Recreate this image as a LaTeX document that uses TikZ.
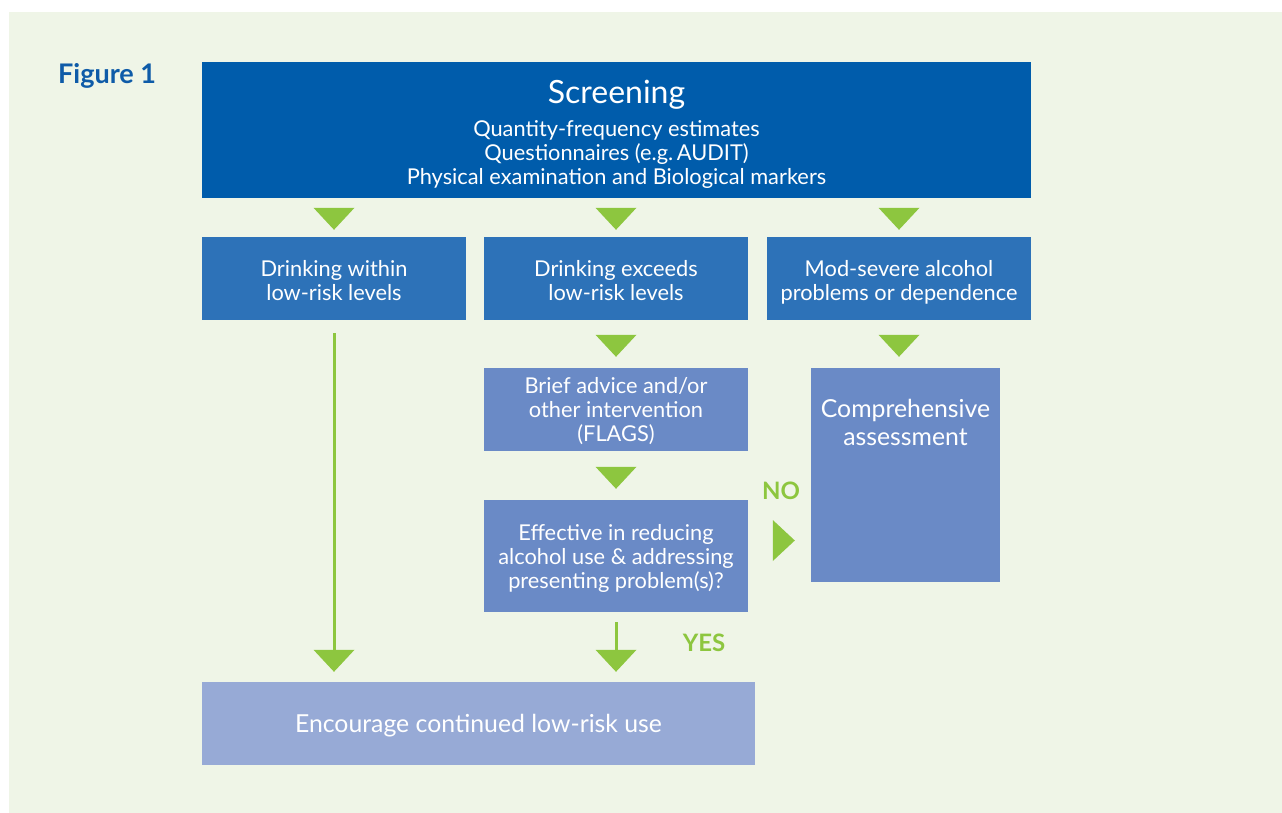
\documentclass[tikz,border=0pt]{standalone}
\usepackage{fontspec}
\setmainfont{Lato}
\usepackage{tikz}
\usetikzlibrary{calc,arrows.meta}

\definecolor{panelbg}{HTML}{EFF5E7}
\definecolor{scrblue}{HTML}{005CAB}
\definecolor{midblue}{HTML}{2D72B8}
\definecolor{softblue}{HTML}{6A8AC6}
\definecolor{paleblue}{HTML}{97AAD6}
\definecolor{flowgreen}{HTML}{8DC63F}
\definecolor{figblue}{HTML}{0E5BA8}

\begin{document}
\begin{tikzpicture}[x=1pt, y=-1pt]

        % Boxes, arrows and answer labels
        \tikzset{
            box/.style={rectangle, fill=#1, text=white, align=center, inner sep=0pt,
                text depth=0pt, font=\fontsize{21.8}{24}\selectfont},
            flow/.style={draw=flowgreen, line width=3pt,
                -{Triangle[length=22pt, width=41pt, line width=0pt]}},
            answer/.style={text=flowgreen, font=\fontsize{24}{28}\selectfont\bfseries}
        }

        % Page with its pale green panel
        \useasboundingbox (0, 0) rectangle (1282, 812);
        \fill[white] (0, 0) rectangle (1282, 812);
        \fill[panelbg] (9, 12) rectangle (1283, 813);

        \node at (58, 76) [anchor=west, inner sep=0pt, text=figblue,
            font=\fontsize{27}{30}\selectfont\bfseries] (fig) {Figure 1};

        % Top of the chart
        \node (scr) at (616.5, 130) [box=scrblue, minimum width=829pt, minimum height=136pt]
            {{\fontsize{32}{38}\selectfont\rule{0pt}{28pt}Screening}\\[9pt]
             Quantity-frequency estimates\\
             Questionnaires (e.g.\,AUDIT)\\
             Physical examination and Biological markers};

        % Second row
        \begin{scope}[minimum width=264pt, minimum height=83pt]
            \node (low) at (334, 278.5) [box=midblue] {\rule{0pt}{20pt}Drinking within\\low-risk levels};
            \node (exc) at (616, 278.5) [box=midblue] {\rule{0pt}{20pt}Drinking exceeds\\low-risk levels};
            \node (sev) at (899, 278.5) [box=midblue] {\rule{0pt}{20pt}Mod-severe alcohol\\problems or dependence};
        \end{scope}

        % Middle of the chart
        \begin{scope}[minimum width=264pt]
            \node (adv) at (616, 409.5) [box=softblue, minimum height=83pt]
                {Brief advice and/or\\other intervention\\(FLAGS)};
            \node (eff) at (616, 556) [box=softblue, minimum height=112pt]
                {Effective in reducing\\alcohol use \& addressing\\presenting problem(s)?};
        \end{scope}
        \node (comp) at (905.5, 475) [box=softblue, minimum width=189pt, minimum height=214pt] {};
        \node at ($(comp.north)+(0, 31)$) [anchor=north, inner sep=0pt, text=white, align=center,
            font=\fontsize{24.8}{28}\selectfont] (comptext) {Comprehensive\\assessment};

        % Bottom of the chart
        \node (enc) at (478.5, 723.5) [box=paleblue, minimum width=553pt, minimum height=83pt,
            font=\fontsize{24.8}{28}\selectfont] {Encourage continued low-risk use};

        % Green arrows
        \begin{scope}[shorten <=10pt, shorten >=7pt]
            \draw[flow] (scr.south -| low) -- (low.north);
            \draw[flow] (scr.south -| exc) -- (exc.north);
            \draw[flow] (scr.south -| sev) -- (sev.north);
        \end{scope}
        \draw[flow, shorten <=15pt, shorten >=11pt] (exc.south) -- (adv.north);
        \draw[flow, shorten <=15pt, shorten >=11pt] (sev.south) -- (sev.south |- comp.north);
        \draw[flow, shorten <=16pt, shorten >=11pt] (adv.south) -- (eff.north);
        \draw[flow, shorten <=13pt, shorten >=10pt] (low.south) -- (low.south |- enc.north);
        \draw[flow, shorten <=10pt, shorten >=10pt] (eff.south) -- (eff.south |- enc.north);

        \coordinate (noy) at (0, 540.5);
        \draw[flow, shorten <=25pt, shorten >=16pt] (eff.east |- noy) -- (comp.west |- noy);

        \node at (781, 491) [answer] (no) {NO};
        \node at (704, 643) [answer] (yes) {YES};

\end{tikzpicture}
\end{document}
